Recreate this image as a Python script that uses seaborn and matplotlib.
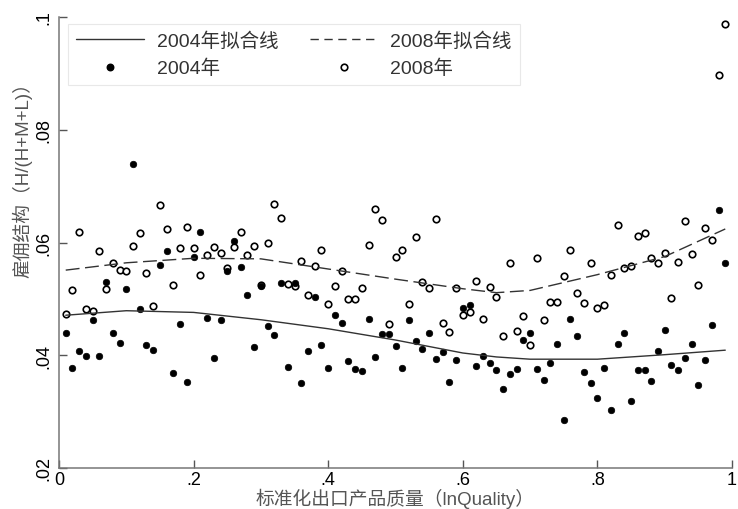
import numpy as np
import pandas as pd
import matplotlib
matplotlib.use("Agg")
from matplotlib import pyplot as plt
from matplotlib.lines import Line2D
import seaborn as sns

# quality bins (percentile groups 1..99, scaled to 0-1)
quality = np.arange(1, 100) / 100

share_2004 = [
    0.0439, 0.0377, 0.0408, 0.0399, 0.0463, 0.0398, 0.0530, 0.0439, 0.0422, 0.0517,
    0.0740, 0.0482, 0.0419, 0.0409, 0.0560, 0.0585, 0.0368, 0.0455, 0.0353, 0.0575,
    0.0619, 0.0466, 0.0395, 0.0462, 0.0549, 0.0603, 0.0557, 0.0506, 0.0414, 0.0522,
    0.0451, 0.0436, 0.0529, 0.0379, 0.0529, 0.0351, 0.0408, 0.0503, 0.0419, 0.0378,
    0.0472, 0.0458, 0.0389, 0.0375, 0.0372, 0.0465, 0.0397, 0.0437, 0.0437, 0.0417,
    0.0378, 0.0463, 0.0425, 0.0411, 0.0440, 0.0394, 0.0405, 0.0353, 0.0392, 0.0484,
    0.0490, 0.0381, 0.0398, 0.0386, 0.0374, 0.0340, 0.0366, 0.0375, 0.0427, 0.0439,
    0.0375, 0.0356, 0.0387, 0.0420, 0.0285, 0.0465, 0.0435, 0.0371, 0.0350, 0.0324,
    0.0378, 0.0303, 0.0420, 0.0440, 0.0318, 0.0373, 0.0373, 0.0354, 0.0408, 0.0445,
    0.0382, 0.0374, 0.0396, 0.0420, 0.0347, 0.0391, 0.0453, 0.0658, 0.0563,
]

share_2008 = [
    0.0474, 0.0515, 0.0619, 0.0482, 0.0478, 0.0585, 0.0517, 0.0563, 0.0552, 0.0549,
    0.0593, 0.0616, 0.0546, 0.0487, 0.0667, 0.0624, 0.0525, 0.0590, 0.0628, 0.0590,
    0.0542, 0.0578, 0.0592, 0.0581, 0.0554, 0.0592, 0.0619, 0.0578, 0.0593, 0.0525,
    0.0599, 0.0669, 0.0644, 0.0527, 0.0523, 0.0567, 0.0506, 0.0559, 0.0587, 0.0491,
    0.0522, 0.0550, 0.0499, 0.0499, 0.0520, 0.0595, 0.0659, 0.0640, 0.0455, 0.0575,
    0.0586, 0.0491, 0.0610, 0.0530, 0.0520, 0.0641, 0.0458, 0.0441, 0.0520, 0.0471,
    0.0476, 0.0531, 0.0465, 0.0521, 0.0503, 0.0435, 0.0564, 0.0443, 0.0469, 0.0418,
    0.0572, 0.0463, 0.0495, 0.0495, 0.0541, 0.0587, 0.0510, 0.0492, 0.0564, 0.0484,
    0.0490, 0.0542, 0.0631, 0.0554, 0.0558, 0.0612, 0.0617, 0.0572, 0.0564, 0.0582,
    0.0502, 0.0566, 0.0638, 0.0579, 0.0525, 0.0625, 0.0605, 0.0898, 0.0988,
]

# fitted curves
fit_x = [0.01, 0.1, 0.2, 0.3, 0.4, 0.5, 0.6, 0.65, 0.7, 0.8, 0.9, 0.99]
fit_2004 = [0.0471, 0.0479, 0.0476, 0.0463, 0.0447, 0.0427, 0.0404, 0.0397, 0.0393,
            0.0393, 0.0401, 0.0409]
fit_2008 = [0.0551, 0.0564, 0.0572, 0.0571, 0.0553, 0.0535, 0.0518, 0.0511, 0.0515,
            0.0543, 0.0575, 0.0624]

x_ticks = [0, 0.2, 0.4, 0.6, 0.8, 1.0]
x_ticklabels = ["0", ".2", ".4", ".6", ".8", "1"]
y_ticks = [0.02, 0.04, 0.06, 0.08, 0.10]
y_ticklabels = [".02", ".04", ".06", ".08", ".1"]

df = pd.DataFrame({"quality": quality, "y2004": share_2004, "y2008": share_2008})
df_fit = pd.DataFrame({"x": fit_x, "f2004": fit_2004, "f2008": fit_2008})

sns.set_theme(style="white")
plt.rcParams["font.family"] = ["Liberation Sans", "Noto Sans CJK SC", "DejaVu Sans"]

fig = plt.figure(figsize=(7.38, 5.10), dpi=100)
ax = fig.add_axes([59 / 738, 41 / 510, 673 / 738, 451 / 510])

# 2008 open circles, then 2004 filled dots
sns.scatterplot(x="quality", y="y2008", data=df, ax=ax, color="white",
                edgecolor="black", linewidth=1.2, s=22, zorder=3)
sns.scatterplot(x="quality", y="y2004", data=df, ax=ax, color="black",
                edgecolor="black", linewidth=0.5, s=22, zorder=4)

# fitted lines
sns.lineplot(x="x", y="f2004", data=df_fit, ax=ax, color="#333333", lw=1.0,
             zorder=5)
sns.lineplot(x="x", y="f2008", data=df_fit, ax=ax, color="#333333", lw=1.0,
             ls=(0, (10, 4)), zorder=5)

ax.set_xlim(0, 1)
ax.set_ylim(0.02, 0.10)
ax.set_xticks(x_ticks)
ax.set_xticklabels(x_ticklabels, fontsize=13)
ax.set_yticks(y_ticks)
ax.set_yticklabels(y_ticklabels, fontsize=13)
for lab in ax.get_yticklabels():
    lab.set_rotation(90)
    lab.set_va("center")
    lab.set_ha("right")

ax.tick_params(axis="both", direction="in", length=6, width=1, color="#555555",
               colors="black", left=True, bottom=True)
ax.tick_params(axis="x", pad=2)
ax.tick_params(axis="y", pad=5)

for side in ["top", "right"]:
    ax.spines[side].set_visible(False)
for side in ["left", "bottom"]:
    ax.spines[side].set_color("#777777")
    ax.spines[side].set_linewidth(1.1)

ax.set_xlabel("标准化出口产品质量（lnQuality）", fontsize=13.5, color="#555555")
ax.set_ylabel("雇佣结构（H/(H+M+L)）", fontsize=13.5, color="#555555")
ax.xaxis.set_label_coords(0.5, -0.044)
ax.yaxis.set_label_coords(-0.039, 0.65)

handles = [
    Line2D([], [], color="#333333", lw=1.0),
    Line2D([], [], marker="o", ls="none", color="black", markersize=4.7),
    Line2D([], [], color="#333333", lw=1.0, dashes=(6, 4)),
    Line2D([], [], marker="o", ls="none", markerfacecolor="white",
           markeredgecolor="black", markeredgewidth=1.2, markersize=4.7),
]
labels = ["2004年拟合线", "2004年", "2008年拟合线", "2008年"]
leg = ax.legend(handles, labels, ncol=2, loc="upper left",
                bbox_to_anchor=(0.014, 0.985), borderaxespad=0, fontsize=14,
                frameon=True, fancybox=False, handlelength=3.5, handletextpad=0.65,
                columnspacing=1.6, labelspacing=0.46, borderpad=0.4,
                labelcolor="#333333")
leg.get_frame().set_edgecolor("#e3e3e3")
leg.get_frame().set_linewidth(0.8)

fig.savefig("out.png", dpi=100)
plt.close(fig)
